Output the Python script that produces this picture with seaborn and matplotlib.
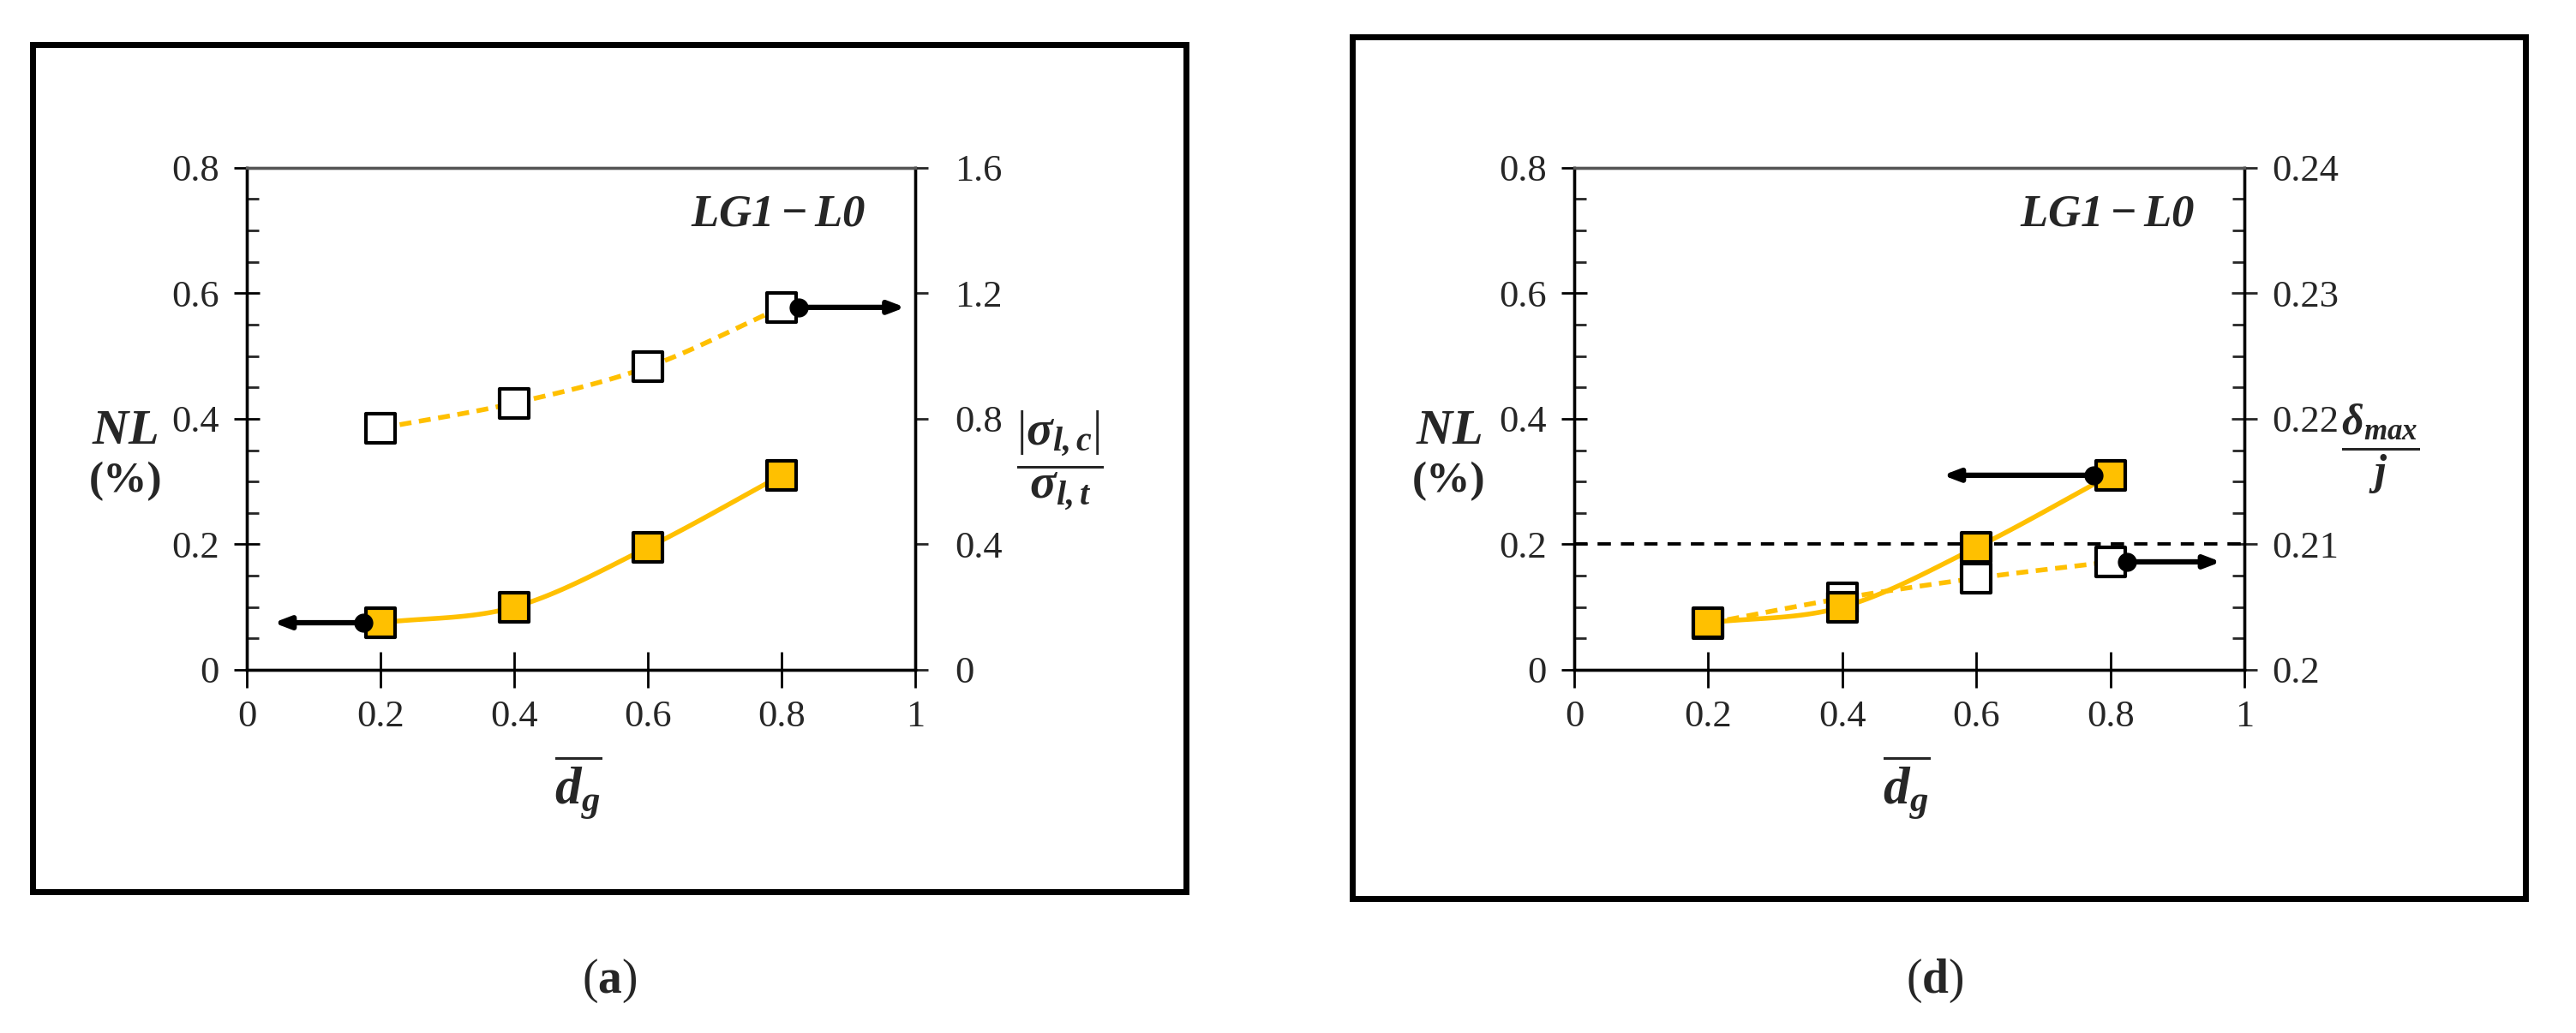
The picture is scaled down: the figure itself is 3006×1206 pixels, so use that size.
import numpy as np
import pandas as pd
import matplotlib
matplotlib.use('Agg')
import matplotlib.pyplot as plt
from matplotlib.patches import Rectangle
from matplotlib.ticker import FuncFormatter, MultipleLocator
import seaborn as sns

# data
dg = [0.2, 0.4, 0.6, 0.8]
nl = [0.075, 0.100, 0.195, 0.310]                  # NL (%), left axes
stress_ratio = [0.77, 0.85, 0.965, 1.155]          # |sigma_l,c| / sigma_l,t  (panel a, right)
defl_ratio = [0.2037, 0.2057, 0.2073, 0.2086]      # delta_max / j  (panel d, right)
defl_limit = 0.21

x_ticks = [0, 0.2, 0.4, 0.6, 0.8, 1]
nl_ticks = [0, 0.2, 0.4, 0.6, 0.8]
stress_ticks = [0, 0.4, 0.8, 1.2, 1.6]
defl_ticks = [0.2, 0.21, 0.22, 0.23, 0.24]

GOLD = '#FFC000'
SERIF = 'Liberation Serif'
TICK_FS = 32

sns.set_style('ticks')
plt.rcParams['font.family'] = [SERIF, 'DejaVu Serif']
plt.rcParams['mathtext.fontset'] = 'custom'
plt.rcParams['mathtext.rm'] = SERIF
plt.rcParams['mathtext.it'] = SERIF + ':italic'
plt.rcParams['mathtext.bf'] = SERIF + ':bold'
plt.rcParams['mathtext.bfit'] = SERIF + ':italic:bold'


def smooth(x, y, n=40):
    # catmull-rom curve through the points, like excel's "smoothed line"
    x = np.asarray(x, float)
    y = np.asarray(y, float)
    px = np.concatenate([[2*x[0]-x[1]], x, [2*x[-1]-x[-2]]])
    py = np.concatenate([[2*y[0]-y[1]], y, [2*y[-1]-y[-2]]])
    t = np.linspace(0, 1, n)
    xs, ys = [], []
    for i in range(1, len(px)-2):
        for p, out in ((px, xs), (py, ys)):
            p0, p1, p2, p3 = p[i-1:i+3]
            out.append(0.5*(2*p1 + (p2-p0)*t + (2*p0-5*p1+4*p2-p3)*t**2
                            + (3*p1-p0-3*p2+p3)*t**3))
    return pd.DataFrame({'x': np.concatenate(xs), 'y': np.concatenate(ys)})


def draw_series(ax, x, y, dashed=False, filled=True):
    sns.lineplot(data=smooth(x, y), x='x', y='y', ax=ax, color=GOLD, lw=4,
                 sort=False, estimator=None, zorder=3,
                 dashes=False, linestyle=(0, (2.5, 1.6)) if dashed else '-')
    sns.scatterplot(x=x, y=y, ax=ax, marker='s', s=620,
                    color=GOLD if filled else 'white', edgecolor='black',
                    linewidth=3, zorder=5)


def arrow(ax, x0, x1, y):
    ax.annotate('', xy=(x1, y), xytext=(x0, y), zorder=6,
                arrowprops=dict(arrowstyle='-|>,head_length=1.1,head_width=0.42',
                                lw=4.5, color='black', shrinkA=0, shrinkB=0))
    ax.plot([x0], [y], 'o', color='black', ms=15, zorder=6)


fmt = FuncFormatter(lambda v, p: '%g' % round(v, 4))


def style_axes(ax, ax2, right_ticks, right_minor):
    ax.set_xlim(0, 1)
    ax.set_ylim(0, 0.8)
    ax.set_xticks(x_ticks)
    ax.set_yticks(nl_ticks)
    ax.yaxis.set_minor_locator(MultipleLocator(0.05))
    ax.xaxis.set_major_formatter(fmt)
    ax.yaxis.set_major_formatter(fmt)
    ax.tick_params(axis='both', which='major', direction='inout', length=22,
                   width=2, labelsize=TICK_FS, pad=12, color='black')
    ax.tick_params(axis='y', which='minor', direction='in', length=10, width=2)
    ax.tick_params(axis='x', which='major', length=30, pad=10)
    ax2.set_ylim(right_ticks[0], right_ticks[-1])
    ax2.set_yticks(right_ticks)
    ax2.yaxis.set_major_formatter(fmt)
    if right_minor:
        ax2.yaxis.set_minor_locator(MultipleLocator(right_minor))
        ax2.tick_params(axis='y', which='major', direction='inout', length=22,
                        width=2, labelsize=TICK_FS, pad=12)
        ax2.tick_params(axis='y', which='minor', direction='in', length=10, width=2)
    else:
        ax2.tick_params(axis='y', which='major', direction='out', length=11,
                        width=2, labelsize=TICK_FS, pad=22)
    for a in (ax, ax2):
        for s in a.spines.values():
            s.set_visible(True)
            s.set_linewidth(2.4)
            s.set_color('black')
        a.set_xlabel('')
        a.set_ylabel('')
    ax.spines['top'].set_color('#555555')
    ax2.spines['top'].set_color('#555555')
    # primary series drawn over the secondary one
    ax.set_zorder(ax2.get_zorder() + 1)
    ax.patch.set_visible(False)


fig = plt.figure(figsize=(30.06, 12.06), dpi=100)

# panel frames
fig.patches.append(Rectangle((0.0126, 0.137), 0.4478, 0.820, transform=fig.transFigure,
                             fill=False, lw=5, ec='black'))
fig.patches.append(Rectangle((0.525, 0.130), 0.4554, 0.834, transform=fig.transFigure,
                             fill=False, lw=5, ec='black'))

# ---- panel (a)
axa = fig.add_axes([0.0958, 0.3516, 0.2595, 0.486])
axa2 = axa.twinx()
draw_series(axa, dg, nl, dashed=False, filled=True)
draw_series(axa2, dg, stress_ratio, dashed=True, filled=False)
style_axes(axa, axa2, stress_ticks, None)
arrow(axa, 0.175, 0.04, nl[0])
arrow(axa2, 0.825, 0.985, stress_ratio[-1])
axa.text(0.925, 0.725, r'$\mathbfit{LG1-L0}$', fontsize=38, ha='right', va='center')
fig.text(0.0486, 0.582, r'$\mathbfit{NL}$', fontsize=42, ha='center', va='center')
fig.text(0.0486, 0.534, '(%)', fontsize=37, fontweight='bold', ha='center', va='center')
fig.text(0.4115, 0.555, r'$\dfrac{|\mathbfit{\sigma}_{\mathbfit{l,c}}|}{\mathbfit{\sigma}_{\mathbfit{l,t}}}$',
         fontsize=41, ha='center', va='center')
fig.text(0.2245, 0.238, r'$\overline{\mathbfit{d}_{\mathbfit{g}}}$', fontsize=44,
         ha='center', va='center')
fig.text(0.2365, 0.050, r'($\mathbf{a}$)', fontsize=40, ha='center', va='center')

# ---- panel (d)
axd = fig.add_axes([0.6111, 0.3516, 0.2602, 0.486])
axd2 = axd.twinx()
draw_series(axd, dg, nl, dashed=False, filled=True)
draw_series(axd2, dg, defl_ratio, dashed=True, filled=False)
axd.axhline(0.2, color='black', lw=2.8, ls=(0, (4, 3)), zorder=2)  # = defl_limit on right axis
style_axes(axd, axd2, defl_ticks, 0.0025)
arrow(axd, 0.775, 0.55, nl[-1])
arrow(axd2, 0.825, 0.965, defl_ratio[-1])
axd.text(0.925, 0.725, r'$\mathbfit{LG1-L0}$', fontsize=38, ha='right', va='center')
fig.text(0.5625, 0.582, r'$\mathbfit{NL}$', fontsize=42, ha='center', va='center')
fig.text(0.5625, 0.534, '(%)', fontsize=37, fontweight='bold', ha='center', va='center')
fig.text(0.924, 0.565, r'$\dfrac{\mathbfit{\delta}_{\mathbfit{max}}}{\mathbfit{j}}$',
         fontsize=36, ha='center', va='center')
fig.text(0.740, 0.238, r'$\overline{\mathbfit{d}_{\mathbfit{g}}}$', fontsize=44,
         ha='center', va='center')
fig.text(0.751, 0.050, r'($\mathbf{d}$)', fontsize=40, ha='center', va='center')

fig.savefig('out.png', dpi=100, facecolor='white')
